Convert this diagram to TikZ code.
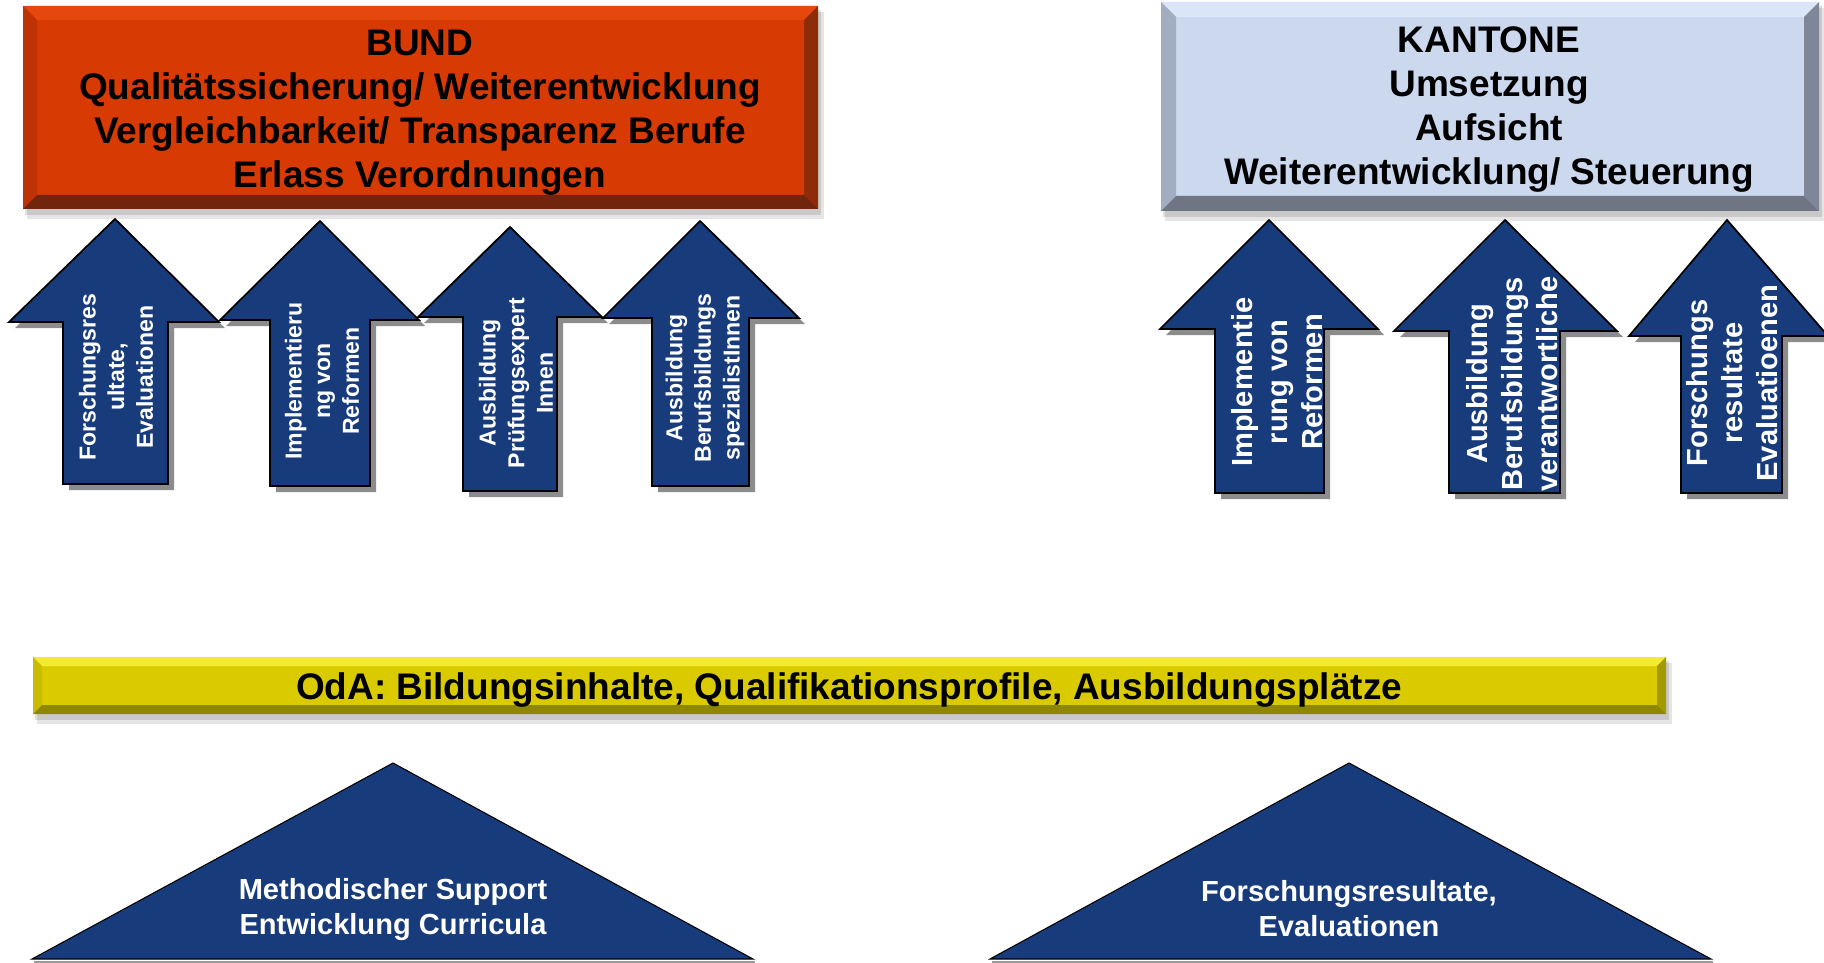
\documentclass[tikz,border=0pt]{standalone}
\usepackage{fontspec}
\setmainfont{Liberation Sans}
\usetikzlibrary{calc}
\definecolor{arrblue}{HTML}{183C7B}
\definecolor{bundfill}{HTML}{D83A04}
\definecolor{bundtop}{HTML}{E5470C}
\definecolor{bundleft}{HTML}{BE3305}
\definecolor{bundright}{HTML}{8E2B08}
\definecolor{bundbottom}{HTML}{72250D}
\definecolor{kanfill}{HTML}{CBD8EE}
\definecolor{kantop}{HTML}{DAE5F8}
\definecolor{kanleft}{HTML}{A3ADC2}
\definecolor{kanright}{HTML}{7E8698}
\definecolor{kanbottom}{HTML}{6F7582}
\definecolor{yelfill}{HTML}{DACB00}
\definecolor{yeltop}{HTML}{F4EB2C}
\definecolor{yelleft}{HTML}{C9BB00}
\definecolor{yelright}{HTML}{A39900}
\definecolor{yelbottom}{HTML}{8F8700}
\newcommand\mybevel[9]{%
  % #1 x1, #2 y1, #3 x2, #4 y2, #5 bevel, #6 fill, #7 top, #8 left, #9 right
  \fill[black,opacity=0.10] ({#1+4},{#2+6}) rectangle ({#3+6},{#4+10});
  \fill[black,opacity=0.12] ({#1+2},{#2+4}) rectangle ({#3+3},{#4+6});
  \fill[#6] (#1,#2) rectangle (#3,#4);
  \fill[#7] (#1,#2) -- (#3,#2) -- ({#3-#5},{#2+#5}) -- ({#1+#5},{#2+#5}) -- cycle;
  \fill[#8] (#1,#2) -- ({#1+#5},{#2+#5}) -- ({#1+#5},{#4-#5}) -- (#1,#4) -- cycle;
  \fill[#9] (#3,#2) -- ({#3-#5},{#2+#5}) -- ({#3-#5},{#4-#5}) -- (#3,#4) -- cycle;
}
\newcommand\mybottom[6]{%
  \fill[#6] (#1,#4) -- ({#1+#5},{#4-#5}) -- ({#3-#5},{#4-#5}) -- (#3,#4) -- cycle;
}
\newcommand\myarrow[8]{%
  % #1 tipx #2 tipy #3 headL #4 headR #5 baseY #6 shaftL #7 shaftR #8 bottom
  \fill[arrshade,shift={(6,6)}] (#1,#2) -- (#4,#5) -- (#7,#5) -- (#7,#8) -- (#6,#8) -- (#6,#5) -- (#3,#5) -- cycle;
  \draw[arrbody] (#1,#2) -- (#4,#5) -- (#7,#5) -- (#7,#8) -- (#6,#8) -- (#6,#5) -- (#3,#5) -- cycle;
}
\begin{document}
\begin{tikzpicture}[x=0.75pt,y=-0.75pt,
  arrbody/.style={fill=arrblue,draw=black,line width=1.3pt,line join=miter},
  arrshade/.style={fill=black!45},
  boxtext/.style={align=center,text=black,font=\bfseries\fontsize{27.75}{33}\selectfont},
  arrtextL/.style={rotate=90,align=center,text=white,font=\bfseries\fontsize{17.3}{21.4}\selectfont},
  arrtextR/.style={rotate=90,align=center,text=white,font=\bfseries\fontsize{21.8}{26.2}\selectfont},
  tritext/.style={align=center,text=white,font=\bfseries\fontsize{21.8}{26.2}\selectfont}]
\path[use as bounding box] (0,0) rectangle (1824,963);
\fill[white] (0,0) rectangle (1824,963);

% BUND box
\mybevel{23}{6}{818}{209}{14}{bundfill}{bundtop}{bundleft}{bundright}
\mybottom{23}{6}{818}{209}{14}{bundbottom}
\node[boxtext] (bund) at (420,113) {BUND\\Qualitätssicherung/ Weiterentwicklung\\Vergleichbarkeit/ Transparenz Berufe\\Erlass Verordnungen};

% KANTONE box
\mybevel{1161}{2}{1819}{211}{15}{kanfill}{kantop}{kanleft}{kanright}
\mybottom{1161}{2}{1819}{211}{15}{kanbottom}
\node[boxtext] (kant) at (1489,110) {KANTONE\\Umsetzung\\Aufsicht\\Weiterentwicklung/ Steuerung};

% left arrows
\myarrow{115}{219}{9}{219}{322}{63}{168}{484}
\myarrow{320}{221}{220}{419}{320}{270}{370}{486}
\myarrow{510}{227}{418}{602}{317}{463}{557}{491}
\myarrow{700}{221}{603}{799}{318}{652}{749}{486}
\node[arrtextL] (t1) at (116,377) {Forschungsres\\ultate,\\Evaluationen};
\node[arrtextL] (t2) at (322,381) {Implementieru\\ng von\\Reformen};
\node[arrtextL] (t3) at (516,383) {Ausbildung\\Prüfungsexpert\\Innen};
\node[arrtextL] (t4) at (705,378) {Ausbildung\\Berufsbildungs\\spezialistInnen};

% right arrows
\myarrow{1269}{220}{1160}{1378}{329}{1215}{1324}{493}
\myarrow{1505}{220}{1394}{1617}{331}{1449}{1560}{493}
\myarrow{1727}{220}{1629}{1828}{336}{1681}{1782}{493}
\node[arrtextR] (t5) at (1277,382) {Implementie\\rung von\\Reformen};
\node[arrtextR] (t6) at (1512,384) {Ausbildung\\Berufsbildungs\\verantwortliche};
\node[arrtextR] (t7) at (1732,383) {Forschungs\\resultate\\Evaluatioenen};

% OdA bar
\mybevel{33}{657}{1666}{714}{9}{yelfill}{yeltop}{yelleft}{yelright}
\mybottom{33}{657}{1666}{714}{9}{yelbottom}
\node[boxtext] (oda) at (849,690) {OdA: Bildungsinhalte, Qualifikationsprofile, Ausbildungsplätze};

% triangles
\fill[black!40] (34,963) -- (755,963) -- (755,961) -- (34,961) -- cycle;
\draw[arrbody,line width=0.8pt] (393,763) -- (753,959) -- (32,959) -- cycle;
\node[tritext] (m1) at (393,910) {Methodischer Support\\Entwicklung Curricula};
\fill[black!40] (992,963) -- (1713,963) -- (1713,961) -- (992,961) -- cycle;
\draw[arrbody,line width=0.8pt] (1349,763) -- (1711,959) -- (990,959) -- cycle;
\node[tritext] (m2) at (1349,909) {Forschungsresultate,\\Evaluationen};
\end{tikzpicture}
\end{document}
